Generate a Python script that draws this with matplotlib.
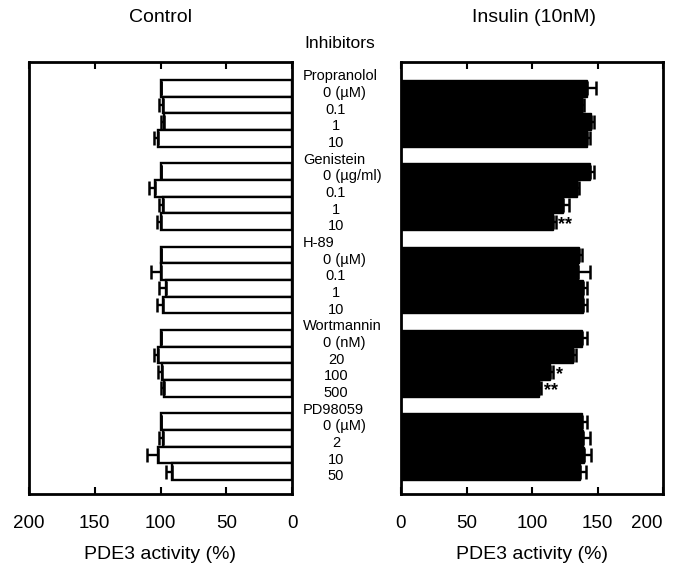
import numpy as np
import matplotlib
matplotlib.use("Agg")
import matplotlib.pyplot as plt
from matplotlib.transforms import blended_transform_factory

plt.rcParams['font.family'] = ['Liberation Sans', 'DejaVu Sans']

# Inhibitor groups and doses
inhibitors = ["Propranolol", "Genistein", "H-89", "Wortmannin", "PD98059"]
doses = [
    ["0 (µM)", "0.1", "1", "10"],
    ["0 (µg/ml)", "0.1", "1", "10"],
    ["0 (µM)", "0.1", "1", "10"],
    ["0 (nM)", "20", "100", "500"],
    ["0 (µM)", "2", "10", "50"],
]

# PDE3 activity (% of basal), control cells
control_mean = [100, 98, 97, 102,
                100, 104, 98, 100,
                100, 100, 96, 98,
                100, 102, 99, 97,
                100, 98, 102, 91]
control_err = [0, 3, 3, 3,
               0, 4.5, 3, 3,
               0, 7, 5, 4.5,
               0, 3, 3, 3,
               0, 3.5, 8, 5]

# PDE3 activity (% of basal), insulin-stimulated cells
insulin_mean = [142, 138, 145, 142,
                144, 134, 124, 116,
                136, 135, 139, 139,
                138.5, 131, 114, 105,
                138, 139, 140, 137]
insulin_err = [7, 2, 2, 2,
               3, 2, 4.5, 2,
               2.5, 9, 3, 3,
               3.5, 2.5, 2, 2,
               4, 5, 5, 4]
significance = ["", "", "", "",
                "", "", "", "**",
                "", "", "", "",
                "", "", "*", "**",
                "", "", "", ""]

x_ticks = [0, 50, 100, 150, 200]

# row layout: each group has a header row followed by four bar rows
rows = np.array([g * 5 + i + 1 for g in range(len(inhibitors)) for i in range(4)])
header_rows = [g * 5 for g in range(len(inhibitors))]

fig = plt.figure(figsize=(6.75, 5.68), dpi=100)
ax_l = fig.add_axes([29 / 675, 1 - 494 / 568, 263 / 675, 432 / 568])
ax_r = fig.add_axes([401 / 675, 1 - 494 / 568, 262 / 675, 432 / 568])

ylim = (25.35, -0.58)
err_kw = dict(ecolor='black', elinewidth=1.7, capsize=5, capthick=1.8)

ax_l.barh(rows, control_mean, height=1.0, color='white', edgecolor='black',
          linewidth=1.7, xerr=[np.zeros(len(control_err)), control_err],
          error_kw=err_kw, zorder=2)
ax_r.barh(rows, insulin_mean, height=1.0, color='black', edgecolor='black',
          linewidth=1.0, xerr=[np.zeros(len(insulin_err)), insulin_err],
          error_kw=err_kw, zorder=2)

for r, m, e, s in zip(rows, insulin_mean, insulin_err, significance):
    if s:
        ax_r.annotate(s, xy=(m + e, r), xytext=(2, -2), textcoords='offset points',
                      ha='left', va='center', fontsize=13, fontweight='bold')

ax_l.set_xlim(200, 0)
ax_r.set_xlim(0, 200)
for ax in (ax_l, ax_r):
    ax.set_ylim(*ylim)
    ax.set_yticks([])
    ax.set_xticks(x_ticks)
    ax.set_xticklabels([str(t) for t in x_ticks], fontsize=13.5)
    ax.tick_params(axis='x', direction='in', top=True, bottom=True,
                   length=5, width=1.5, pad=15)
    for sp in ax.spines.values():
        sp.set_linewidth(2.0)
    ax.set_xlabel("PDE3 activity (%)", fontsize=14, labelpad=10)

# keep the outermost right-hand label inside the figure
ax_r.get_xticklabels()[-1].set_horizontalalignment('right')

fig.text(160 / 675, 1 - 18 / 568, "Control", ha='center', va='center', fontsize=14)
fig.text(534 / 675, 1 - 18 / 568, "Insulin (10nM)", ha='center', va='center', fontsize=14)

# middle column of inhibitor names and concentrations
tr = blended_transform_factory(fig.transFigure, ax_l.transData)
fs = 10.5
off = 0.28
for g, name in enumerate(inhibitors):
    fig.text(303 / 675, header_rows[g] + off, name, transform=tr,
             ha='left', va='center', fontsize=fs)
    for i, d in enumerate(doses[g]):
        r = header_rows[g] + i + 1 + off
        if i == 0:
            fig.text(323 / 675, r, d, transform=tr, ha='left', va='center', fontsize=fs)
        else:
            fig.text(336 / 675, r, d, transform=tr, ha='center', va='center', fontsize=fs)

fig.text(340 / 675, 1 - 43 / 568, "Inhibitors", ha='center', va='center', fontsize=12.5)

fig.savefig("out.png", dpi=100)
